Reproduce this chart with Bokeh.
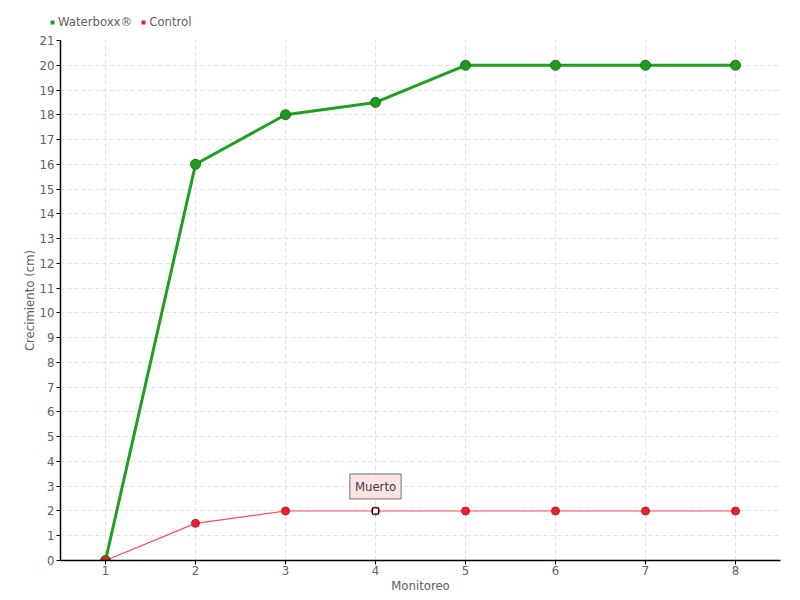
from bokeh.plotting import figure
from bokeh.layouts import column, row
from bokeh.models import Legend, LegendItem, Label, FixedTicker, Range1d, ColumnDataSource
from bokeh.embed import file_html
from bokeh.resources import INLINE

monitoreo = [1, 2, 3, 4, 5, 6, 7, 8]
waterboxx = [0, 16, 18, 18.5, 20, 20, 20, 20]
control = [0, 1.5, 2, 2, 2, 2, 2, 2]
muerto_x = [4]
muerto_y = [2]
y_ticks = list(range(0, 22))

FONT = "DejaVu Sans Condensed"
GRAY = "#606060"
GREEN = "#1fa01f"
RED = "#ee1c2e"

p = figure(width=796, height=566, output_backend="svg", toolbar_location=None,
           x_range=Range1d(0.5, 8.5), y_range=Range1d(0, 21),
           min_border_left=60, min_border_right=16, min_border_top=10, min_border_bottom=36)
p.outline_line_color = None

p.xaxis.ticker = FixedTicker(ticks=monitoreo)
p.yaxis.ticker = FixedTicker(ticks=y_ticks)
for ax in (p.xaxis, p.yaxis):
    ax.axis_line_color = "black"
    ax.axis_line_width = 1.5
    ax.major_tick_line_color = "black"
    ax.major_tick_in = 0
    ax.major_tick_out = 4
    ax.minor_tick_line_color = None
    ax.major_label_text_font = FONT
    ax.major_label_text_font_size = "13px"
    ax.major_label_text_color = GRAY
    ax.axis_label_text_font = FONT
    ax.axis_label_text_font_size = "13px"
    ax.axis_label_text_color = GRAY
    ax.axis_label_text_font_style = "normal"
p.xaxis.axis_label = "Monitoreo"
p.yaxis.axis_label = "Crecimiento (cm)"
p.xaxis.axis_label_standoff = 0
p.yaxis.axis_label_standoff = 0
p.xaxis.major_label_standoff = 1
p.yaxis.major_label_standoff = 2

for g in (p.xgrid, p.ygrid):
    g.grid_line_color = "#e0e0e0"
    g.grid_line_dash = "4 3"
    g.grid_line_width = 1

src_w = ColumnDataSource(dict(x=monitoreo, y=waterboxx))
src_c = ColumnDataSource(dict(x=monitoreo, y=control))

p.line("x", "y", source=src_c, line_color="#ff4a5a", line_width=1.2)
p.line("x", "y", source=src_w, line_color=GREEN, line_width=3)
p.scatter("x", "y", source=src_w, size=10, fill_color="#1f9a1f", line_color="#137a13", line_width=1)
p.scatter("x", "y", source=src_c, size=8, fill_color="#e8202e", line_color="#c81824", line_width=1)
p.scatter(muerto_x, muerto_y, marker="square", size=6, fill_color="white", line_color="black", line_width=1.2)

lab = Label(x=muerto_x[0], y=muerto_y[0], text="Muerto", x_units="data", y_units="data",
            y_offset=12, text_align="center", text_baseline="bottom",
            text_font=FONT, text_font_size="13px", text_color="#404040",
            background_fill_color="#fde4e4", border_line_color="#707070", border_line_width=1,
            padding=5)
p.add_layout(lab)

# legend strip above the chart
lf = figure(width=796, height=30, output_backend="svg", toolbar_location=None,
            x_range=Range1d(0.5, 8.5), y_range=Range1d(0, 21),
            min_border_left=0, min_border_right=0, min_border_top=0, min_border_bottom=0)
lf.outline_line_color = None
lf.axis.visible = False
lf.grid.visible = False
leg_w = lf.scatter("x", "y", source=src_w, marker="square", size=7, fill_color=GREEN, line_color=None, visible=False)
leg_c = lf.scatter("x", "y", source=src_c, marker="square", size=7, fill_color=RED, line_color=None, visible=False)
legend = Legend(items=[LegendItem(label="Waterboxx®", renderers=[leg_w], index=0),
                       LegendItem(label="Control", renderers=[leg_c], index=0)],
                orientation="horizontal", location=(47, 1),
                label_text_font=FONT, label_text_font_size="13px", label_text_color=GRAY,
                glyph_width=10, glyph_height=10, label_standoff=1, spacing=6,
                padding=0, margin=0, border_line_color=None, background_fill_alpha=0)
lf.add_layout(legend, "center")

layout = column(row(lf), p, spacing=0)
open("out.html", "w").write(file_html(layout, INLINE))
